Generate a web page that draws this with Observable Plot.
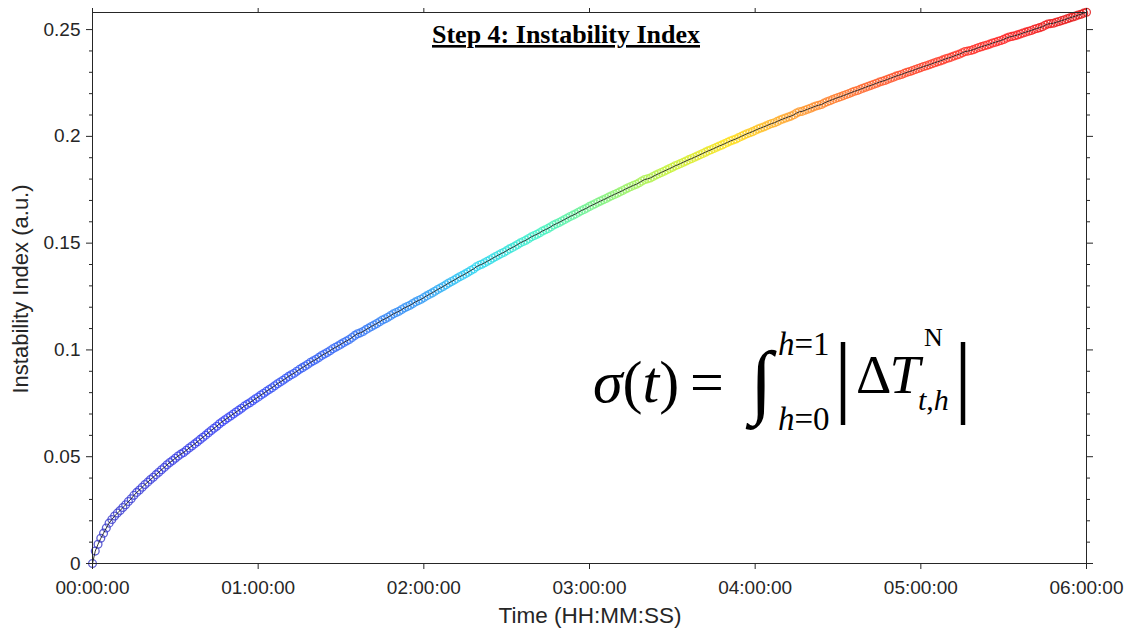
<!DOCTYPE html>
<html>
<head>
<meta charset="utf-8">
<script src="https://cdn.jsdelivr.net/npm/d3@7"></script>
<script src="https://cdn.jsdelivr.net/npm/@observablehq/plot@0.6"></script>
<style>
  html, body { margin: 0; padding: 0; background: #fff; }
  #chart { width: 1130px; height: 631px; }
</style>
</head>
<body>
<div id="chart"></div>
<script>
// ---- data ----
const sampleIntervalMin = 1; // one sample per minute, 0 .. 360 min
const instabilityIndex = [
  0.0000,
  0.0058, 0.0090, 0.0118, 0.0142, 0.0166, 0.0189, 0.0206, 0.0222, 0.0236, 0.0248,
  0.0262, 0.0275, 0.0290, 0.0303, 0.0319, 0.0333, 0.0344, 0.0357, 0.0370, 0.0381,
  0.0393, 0.0404, 0.0416, 0.0427, 0.0439, 0.0450, 0.0462, 0.0473, 0.0482, 0.0493,
  0.0503, 0.0512, 0.0520, 0.0530, 0.0541, 0.0550, 0.0560, 0.0570, 0.0581, 0.0591,
  0.0601, 0.0612, 0.0623, 0.0633, 0.0643, 0.0654, 0.0664, 0.0673, 0.0682, 0.0691,
  0.0700, 0.0709, 0.0718, 0.0727, 0.0737, 0.0745, 0.0753, 0.0762, 0.0771, 0.0779,
  0.0789, 0.0797, 0.0806, 0.0815, 0.0823, 0.0832, 0.0842, 0.0850, 0.0858, 0.0867,
  0.0876, 0.0884, 0.0891, 0.0900, 0.0909, 0.0917, 0.0925, 0.0933, 0.0942, 0.0949,
  0.0956, 0.0965, 0.0974, 0.0981, 0.0988, 0.0996, 0.1005, 0.1012, 0.1019, 0.1027,
  0.1035, 0.1042, 0.1049, 0.1058, 0.1068, 0.1076, 0.1080, 0.1086, 0.1095, 0.1102,
  0.1110, 0.1117, 0.1124, 0.1132, 0.1140, 0.1146, 0.1153, 0.1161, 0.1169, 0.1175,
  0.1181, 0.1189, 0.1197, 0.1203, 0.1209, 0.1217, 0.1225, 0.1231, 0.1237, 0.1245,
  0.1253, 0.1260, 0.1267, 0.1275, 0.1283, 0.1290, 0.1297, 0.1305, 0.1313, 0.1320,
  0.1327, 0.1335, 0.1343, 0.1349, 0.1356, 0.1364, 0.1372, 0.1379, 0.1389, 0.1396,
  0.1401, 0.1408, 0.1415, 0.1422, 0.1430, 0.1437, 0.1444, 0.1451, 0.1457, 0.1465,
  0.1473, 0.1479, 0.1486, 0.1494, 0.1502, 0.1508, 0.1514, 0.1522, 0.1530, 0.1536,
  0.1542, 0.1549, 0.1557, 0.1563, 0.1569, 0.1577, 0.1585, 0.1591, 0.1597, 0.1604,
  0.1611, 0.1618, 0.1625, 0.1631, 0.1637, 0.1645, 0.1652, 0.1658, 0.1664, 0.1672,
  0.1678, 0.1684, 0.1691, 0.1697, 0.1703, 0.1709, 0.1716, 0.1722, 0.1728, 0.1734,
  0.1740, 0.1746, 0.1753, 0.1759, 0.1765, 0.1771, 0.1776, 0.1783, 0.1791, 0.1798,
  0.1801, 0.1805, 0.1812, 0.1819, 0.1825, 0.1831, 0.1837, 0.1843, 0.1849, 0.1855,
  0.1862, 0.1867, 0.1873, 0.1879, 0.1885, 0.1891, 0.1896, 0.1902, 0.1908, 0.1914,
  0.1920, 0.1926, 0.1932, 0.1937, 0.1943, 0.1949, 0.1955, 0.1960, 0.1966, 0.1972,
  0.1978, 0.1983, 0.1988, 0.1994, 0.2000, 0.2006, 0.2012, 0.2017, 0.2022, 0.2028,
  0.2034, 0.2039, 0.2044, 0.2049, 0.2055, 0.2060, 0.2064, 0.2070, 0.2076, 0.2081,
  0.2086, 0.2091, 0.2095, 0.2101, 0.2109, 0.2115, 0.2117, 0.2122, 0.2127, 0.2132,
  0.2137, 0.2142, 0.2146, 0.2149, 0.2156, 0.2162, 0.2167, 0.2172, 0.2177, 0.2182,
  0.2186, 0.2191, 0.2196, 0.2201, 0.2206, 0.2211, 0.2215, 0.2220, 0.2225, 0.2230,
  0.2235, 0.2239, 0.2244, 0.2249, 0.2254, 0.2258, 0.2262, 0.2267, 0.2272, 0.2277,
  0.2282, 0.2286, 0.2290, 0.2295, 0.2300, 0.2304, 0.2308, 0.2313, 0.2318, 0.2322,
  0.2327, 0.2331, 0.2335, 0.2340, 0.2345, 0.2349, 0.2353, 0.2358, 0.2363, 0.2367,
  0.2371, 0.2376, 0.2381, 0.2385, 0.2391, 0.2397, 0.2399, 0.2402, 0.2406, 0.2411,
  0.2416, 0.2420, 0.2424, 0.2428, 0.2432, 0.2437, 0.2441, 0.2445, 0.2449, 0.2454,
  0.2460, 0.2465, 0.2468, 0.2471, 0.2475, 0.2479, 0.2484, 0.2488, 0.2492, 0.2496,
  0.2501, 0.2505, 0.2509, 0.2513, 0.2520, 0.2526, 0.2528, 0.2530, 0.2534, 0.2538,
  0.2542, 0.2546, 0.2551, 0.2555, 0.2559, 0.2563, 0.2568, 0.2572, 0.2577, 0.2581
];
const xTicksHours = [0, 1, 2, 3, 4, 5, 6];
const xTickLabels = ["00:00:00", "01:00:00", "02:00:00", "03:00:00", "04:00:00", "05:00:00", "06:00:00"];
const yTicks = [0, 0.05, 0.1, 0.15, 0.2, 0.25];
const yTickLabels = ["0", "0.05", "0.1", "0.15", "0.2", "0.25"];
const yMinorTicks = [0.01,0.02,0.03,0.04,0.06,0.07,0.08,0.09,0.11,0.12,0.13,0.14,0.16,0.17,0.18,0.19,0.21,0.22,0.23,0.24];
const titleText = "Step 4: Instability Index";
const xLabel = "Time (HH:MM:SS)";
const yLabel = "Instability Index (a.u.)";

// ---- style: colour ramp over time (hours) ----
const colorStopsHours = [0, 0.8, 1.5, 2.0, 2.3, 2.7, 3.1, 3.5, 3.85, 4.2, 4.6, 5.0, 5.5, 6.0];
const colorStopsRange = ["#4242c8", "#3a44f4", "#3a6ef6", "#389ff6", "#30d4f2", "#44f2c6", "#86f27c",
                         "#caf23a", "#ffe01c", "#ffa632", "#ff7030", "#ff462e", "#ff2828", "#e01818"];

const data = instabilityIndex.map((v, i) => ({ t: i * sampleIntervalMin / 60, v }));
const fmtX = h => xTickLabels[xTicksHours.indexOf(h)];
const fmtY = v => yTickLabels[yTicks.indexOf(v)];
const axisColor = "#262626";

const chart = Plot.plot({
  width: 1130,
  height: 631,
  marginLeft: 92,
  marginRight: 44,
  marginTop: 12,
  marginBottom: 68,
  style: { fontFamily: "'Liberation Sans', Arial, sans-serif", fontSize: "19px", color: axisColor, background: "#fff" },
  x: { domain: [0, 6] },
  y: { domain: [0, 0.258] },
  color: { type: "linear", domain: colorStopsHours, range: colorStopsRange, interpolate: "rgb" },
  marks: [
    Plot.dot(data, { x: "t", y: "v", stroke: "t", r: 3.9, strokeWidth: 1.3, strokeOpacity: 0.85 }),
    Plot.line(data, { x: "t", y: "v", stroke: "#1e1e1e", strokeWidth: 0.9 }),
    Plot.frame({ stroke: axisColor, strokeWidth: 1 }),
    Plot.axisX({ ticks: xTicksHours, tickFormat: fmtX, tickSize: 6, tickPadding: 11, label: null, stroke: axisColor }),
    Plot.axisX({ anchor: "top", ticks: xTicksHours, tickFormat: () => "", tickSize: 5, label: null, stroke: axisColor }),
    Plot.axisY({ ticks: yTicks, tickFormat: fmtY, tickSize: 6, tickPadding: 6, label: null, stroke: axisColor }),
    Plot.axisY({ anchor: "right", ticks: yTicks, tickFormat: () => "", tickSize: 6, label: null, stroke: axisColor }),
    Plot.axisY({ ticks: yMinorTicks, tickFormat: () => "", tickSize: 3, label: null, stroke: axisColor }),
    Plot.axisY({ anchor: "right", ticks: yMinorTicks, tickFormat: () => "", tickSize: 3, label: null, stroke: axisColor })
  ]
});
document.getElementById("chart").appendChild(chart);

const svg = d3.select(chart);

// axis labels
svg.append("text")
  .attr("x", 590).attr("y", 623).attr("text-anchor", "middle")
  .style("font", "22.5px 'Liberation Sans', Arial, sans-serif").attr("fill", axisColor)
  .text(xLabel);
svg.append("text")
  .attr("transform", "translate(28,289) rotate(-90)").attr("text-anchor", "middle")
  .style("font", "22px 'Liberation Sans', Arial, sans-serif").attr("fill", axisColor)
  .text(yLabel);

// title
svg.append("text")
  .attr("x", 566).attr("y", 43).attr("text-anchor", "middle")
  .style("font", "bold 26px 'Liberation Serif', 'Times New Roman', serif")
  .style("text-decoration", "underline").attr("fill", "#000")
  .text(titleText);

// formula
const serif = "'Liberation Serif', 'Times New Roman', serif";
const f = svg.append("g").attr("fill", "#000").attr("text-anchor", "start").style("font-family", serif);
const t1 = f.append("text").attr("x", 593).attr("y", 402).style("font-size", "60px");
t1.append("tspan").style("font-style", "italic").text("σ");
t1.append("tspan").text("(");
t1.append("tspan").style("font-style", "italic").text("t");
t1.append("tspan").text(")");
f.append("text").attr("x", 690).attr("y", 402).style("font-size", "60px").text("=");
f.append("text").attr("x", 750).attr("y", 408).style("font-size", "82px").text("∫");
const sup = f.append("text").attr("x", 778).attr("y", 355).style("font-size", "33px");
sup.append("tspan").style("font-style", "italic").text("h");
sup.append("tspan").text("=1");
const sub = f.append("text").attr("x", 778).attr("y", 430).style("font-size", "33px");
sub.append("tspan").style("font-style", "italic").text("h");
sub.append("tspan").text("=0");
f.append("text").attr("x", 834).attr("y", 406).style("font-size", "90px").text("|");
const dT = f.append("text").attr("x", 856).attr("y", 393).style("font-size", "55px");
dT.append("tspan").text("Δ");
dT.append("tspan").attr("dx", -2).style("font-style", "italic").text("T");
f.append("text").attr("x", 924).attr("y", 346).style("font-size", "26px").text("N");
const th = f.append("text").attr("x", 918).attr("y", 410).style("font-size", "30px");
th.append("tspan").style("font-style", "italic").text("t");
th.append("tspan").text(",");
th.append("tspan").style("font-style", "italic").text("h");
f.append("text").attr("x", 954).attr("y", 406).style("font-size", "90px").text("|");
</script>
</body>
</html>
